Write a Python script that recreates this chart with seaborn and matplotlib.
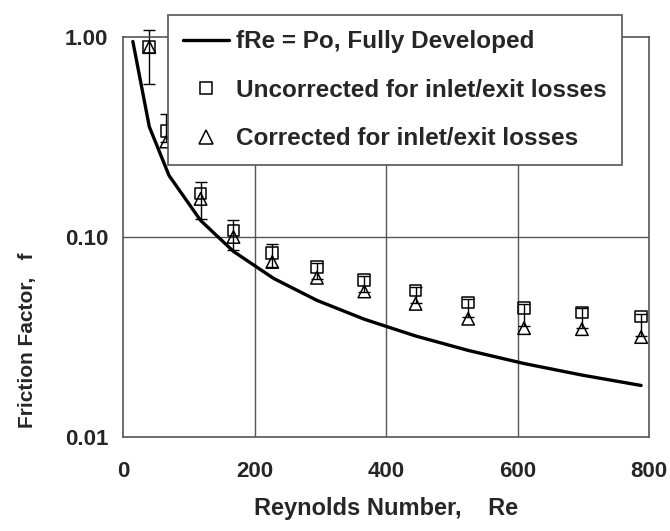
import matplotlib
matplotlib.use("Agg")
import matplotlib.pyplot as plt
import matplotlib.ticker as mticker
from matplotlib.lines import Line2D
import numpy as np
import pandas as pd
import seaborn as sns

# ---- data ----
re_curve = [15, 40, 70, 118, 168, 229, 295, 367, 445, 525, 610, 698, 788]
f_curve = [0.95, 0.356, 0.203, 0.121, 0.0847, 0.0621, 0.0482, 0.0388,
           0.0320, 0.0271, 0.0233, 0.0204, 0.0181]

re_data = [40, 66, 118, 168, 227, 295, 367, 445, 525, 610, 698, 788]
f_uncorr = [0.89, 0.34, 0.165, 0.108, 0.083, 0.071, 0.061, 0.054, 0.047, 0.044, 0.042, 0.040]
f_corr = [0.89, 0.30, 0.155, 0.100, 0.075, 0.0625, 0.0534, 0.0463, 0.039, 0.035, 0.0346, 0.0316]
err_low = [0.58, 0.30, 0.123, 0.086, 0.071, 0.062, 0.053, 0.047, 0.040, 0.036, 0.035, 0.032]
err_high = [1.08, 0.41, 0.189, 0.122, 0.092, 0.074, 0.064, 0.056, 0.049, 0.046, 0.044, 0.041]

x_ticks = [0, 200, 400, 600, 800]
y_ticks = [0.01, 0.10, 1.00]
y_tick_labels = ["0.01", "0.10", "1.00"]

label_curve = "fRe = Po, Fully Developed"
label_unc = "Uncorrected for inlet/exit losses"
label_cor = "Corrected for inlet/exit losses"

sns.set_style("white")
plt.rcParams['font.family'] = ['Liberation Sans', 'DejaVu Sans']
plt.rcParams['font.weight'] = 'bold'

fig = plt.figure(figsize=(6.7, 5.31), dpi=100)
ax = fig.add_axes([123/670, 1 - 437/531, (649-123)/670, (437-37)/531])

df_curve = pd.DataFrame({"Re": re_curve, "f": f_curve})
df_data = pd.DataFrame({"Re": re_data, "unc": f_uncorr, "cor": f_corr})

grid_col = "#555555"
ax.set_yscale("log")
ax.set_xlim(0, 800)
ax.set_ylim(0.01, 1.0)

for xv in [200, 400, 600]:
    ax.axvline(xv, color=grid_col, lw=1.0, zorder=0)
ax.axhline(0.1, color=grid_col, lw=1.0, zorder=0)

# error bars
lo = np.array(f_uncorr) - np.array(err_low)
hi = np.array(err_high) - np.array(f_uncorr)
ax.errorbar(re_data, f_uncorr, yerr=[lo, hi], fmt="none", ecolor="black",
            elinewidth=1.0, capsize=4.5, capthick=1.0, zorder=2, clip_on=False)

sns.lineplot(data=df_curve, x="Re", y="f", ax=ax, color="black", lw=2.4,
             zorder=3, legend=False)
sns.scatterplot(data=df_data, x="Re", y="unc", ax=ax, marker="s", s=70,
                facecolor="none", edgecolor="black", linewidth=1.1, zorder=4,
                legend=False)
sns.scatterplot(data=df_data, x="Re", y="cor", ax=ax, marker="^", s=80,
                facecolor="none", edgecolor="black", linewidth=1.1, zorder=4,
                legend=False)

ax.set_xticks(x_ticks)
ax.set_xticklabels([str(v) for v in x_ticks])
ax.xaxis.set_minor_locator(mticker.MultipleLocator(40))
ax.set_yticks(y_ticks)
ax.set_yticklabels(y_tick_labels)
ax.yaxis.set_minor_locator(mticker.LogLocator(base=10, subs=np.arange(2, 10)))
ax.yaxis.set_minor_formatter(mticker.NullFormatter())

ax.tick_params(axis="both", which="major", direction="inout", length=10,
               width=1.0, color=grid_col, labelsize=16)
ax.tick_params(axis="both", which="minor", direction="in", length=5,
               width=1.0, color=grid_col)
ax.tick_params(axis="x", which="major", pad=12)
ax.tick_params(axis="y", which="major", pad=5.5)
for lab in ax.get_xticklabels() + ax.get_yticklabels():
    lab.set_fontweight("bold")

for sp in ax.spines.values():
    sp.set_color(grid_col)
    sp.set_linewidth(1.2)

ax.set_xlabel("Reynolds Number,    Re", fontsize=17, fontweight="bold")
ax.set_ylabel("Friction Factor,   f", fontsize=15, fontweight="bold")
ax.xaxis.set_label_coords(0.5, (437 - 497) / 400)
ax.yaxis.set_label_coords((37 - 123) / 526, (437 - 340) / 400)

handles = [
    Line2D([0], [0], color="black", lw=2.4),
    Line2D([0], [0], marker="s", ls="none", markerfacecolor="none",
           markeredgecolor="black", markersize=9, markeredgewidth=1.1),
    Line2D([0], [0], marker="^", ls="none", markerfacecolor="none",
           markeredgecolor="black", markersize=10, markeredgewidth=1.1),
]
leg = fig.legend(handles, [label_curve, label_unc, label_cor],
                 loc="upper left", bbox_to_anchor=(168/670, 1 - 15/531),
                 frameon=True, fancybox=False, framealpha=1.0,
                 edgecolor=grid_col, prop={"weight": "bold", "size": 17.5},
                 handlelength=1.9, labelspacing=1.05, borderpad=0.62,
                 handletextpad=0.28, borderaxespad=0)
leg.get_frame().set_linewidth(1.2)
leg.set_zorder(10)

fig.savefig("out.png", dpi=100)
